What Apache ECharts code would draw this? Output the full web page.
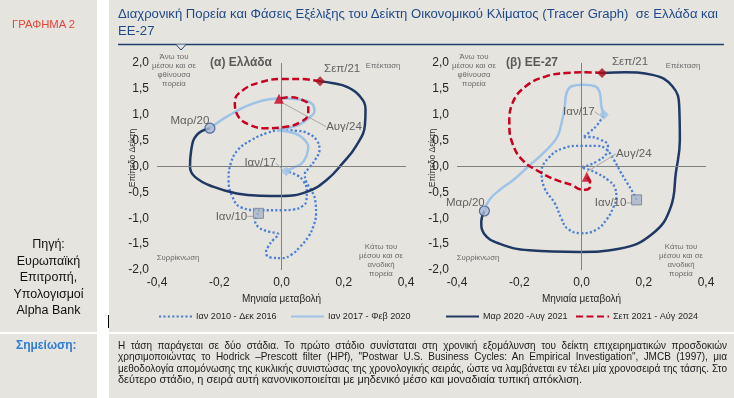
<!DOCTYPE html>
<html><head><meta charset="utf-8">
<script src="https://cdn.jsdelivr.net/npm/echarts@6/dist/echarts.min.js"></script>
<style>
html,body{margin:0;padding:0;background:#fff;}
body{width:734px;height:398px;position:relative;overflow:hidden;font-family:'Liberation Sans',Arial,sans-serif;}
.pn{position:absolute;background:#e6e4df;}
#chart{position:absolute;left:0;top:0;width:734px;height:398px;z-index:1;}
.tx{position:absolute;z-index:2;white-space:nowrap;}
#notes div{text-align:justify;text-align-last:justify;white-space:nowrap;transform-origin:left top;}
#notes div.last{text-align-last:left;}
</style></head>
<body>
<div class="pn" style="left:0;top:0;width:97px;height:332px"></div>
<div class="pn" style="left:109px;top:0;width:625px;height:332px"></div>
<div class="pn" style="left:0;top:334px;width:97px;height:64px"></div>
<div class="pn" style="left:109px;top:334px;width:625px;height:64px"></div>

<div class="tx" style="left:12px;top:17px;font-size:11.3px;line-height:14px;color:#e2483a">ΓΡΑΦΗΜΑ 2</div>
<div id="title" class="tx" style="left:118px;top:6px;font-size:12.5px;line-height:17px;color:#1f4a8a"><span id="t1">Διαχρονική Πορεία και Φάσεις Εξέλιξης του Δείκτη Οικονομικού Κλίματος (Tracer Graph)&nbsp; σε Ελλάδα και</span><br>ΕΕ-27</div>
<div class="tx" style="left:0;width:97px;top:236px;text-align:center;font-size:12.5px;line-height:16.5px;color:#111">Πηγή:<br>Ευρωπαϊκή<br>Επιτροπή,<br>Υπολογισμοί<br>Alpha Bank</div>
<div class="tx" style="left:16px;top:338px;font-size:12px;line-height:15px;font-weight:bold;color:#2e7dd1">Σημείωση:</div>
<div id="notes" class="tx" style="left:118px;top:339.5px;font-size:10.5px;line-height:11.5px;color:#1a1a1a">
<div><span>Η τάση παράγεται σε δύο στάδια. Το πρώτο στάδιο συνίσταται στη χρονική εξομάλυνση του δείκτη επιχειρηματικών προσδοκιών</span></div>
<div><span>χρησιμοποιώντας το Hodrick –Prescott filter (HPf), "Postwar U.S. Business Cycles: An Empirical Investigation", JMCB (1997), μια</span></div>
<div><span>μεθοδολογία απομόνωσης της κυκλικής συνιστώσας της χρονολογικής σειράς, ώστε να λαμβάνεται εν τέλει μία χρονοσειρά της τάσης. Στο</span></div>
<div class="last"><span>δεύτερο στάδιο, η σειρά αυτή κανονικοποιείται με μηδενικό μέσο και μοναδιαία τυπική απόκλιση.</span></div>
</div>
<div id="chart"></div>
<script>
// ---------- DATA ----------
const seriesNames = ['Ιαν 2010 - Δεκ 2016', 'Ιαν 2017 - Φεβ 2020', 'Μαρ 2020 -Αυγ 2021', 'Σεπ 2021 - Αύγ 2024'];
const panelTitles = ['(α) Ελλάδα', '(β) ΕΕ-27'];
const markerNames = ['Ιαν/10', 'Ιαν/17', 'Μαρ/20', 'Σεπ/21', 'Αυγ/24'];
const xTicks = [-0.4, -0.2, 0.0, 0.2, 0.4];
const yTicks = [-2.0, -1.5, -1.0, -0.5, 0.0, 0.5, 1.0, 1.5, 2.0];

// Greece
const grDotted = [[-0.074,-0.905],[-0.085,-1.04],[-0.072,-1.18],[-0.04,-1.26],[-0.01,-1.31],[-0.027,-1.42],[-0.043,-1.55],[-0.05,-1.67],[-0.033,-1.76],[0.0,-1.77],[0.033,-1.70],[0.06,-1.55],[0.086,-1.36],[0.102,-1.16],[0.111,-0.92],[0.109,-0.68],[0.098,-0.48],[0.08,-0.30],[0.075,-0.15],[0.09,-0.02],[0.108,0.13],[0.122,0.32],[0.114,0.50],[0.088,0.63],[0.05,0.69],[0.0,0.70],[-0.045,0.65],[-0.10,0.50],[-0.14,0.32],[-0.163,0.06],[-0.17,-0.26],[-0.158,-0.58],[-0.13,-0.79],[-0.07,-0.845],[0.0,-0.845],[0.04,-0.83],[0.066,-0.77],[0.08,-0.66],[0.081,-0.46],[0.07,-0.28],[0.05,-0.17],[0.015,-0.09]];
const grLight = [[0.015,-0.09],[0.038,-0.02],[0.065,0.06],[0.081,0.22],[0.086,0.38],[0.075,0.51],[0.054,0.61],[0.027,0.665],[0.0,0.69],[-0.012,0.71],[0.02,0.745],[0.06,0.82],[0.09,0.95],[0.106,1.07],[0.10,1.20],[0.066,1.29],[0.0,1.32],[-0.05,1.29],[-0.09,1.22],[-0.13,1.12],[-0.165,1.0],[-0.20,0.87],[-0.23,0.74]];
const grNavy = [[-0.23,0.74],[-0.272,0.61],[-0.29,0.32],[-0.294,0.0],[-0.278,-0.20],[-0.22,-0.39],[-0.144,-0.52],[-0.069,-0.565],[0.0,-0.57],[0.081,-0.49],[0.145,-0.26],[0.196,0.06],[0.24,0.40],[0.268,0.80],[0.27,1.10],[0.25,1.37],[0.21,1.54],[0.166,1.61],[0.124,1.645]];
const grRed = [[0.124,1.645],[0.059,1.69],[0.0,1.69],[-0.069,1.625],[-0.123,1.48],[-0.15,1.26],[-0.142,1.0],[-0.101,0.80],[-0.048,0.74],[0.006,0.76],[0.059,0.85],[0.086,1.03],[0.086,1.19],[0.065,1.29],[0.027,1.34],[-0.008,1.31]];

// EU-27
const euDotted = [[0.177,-0.645],[0.165,-0.50],[0.145,-0.30],[0.125,-0.10],[0.105,0.12],[0.08,0.33],[0.05,0.40],[0.0,0.40],[-0.06,0.35],[-0.105,0.17],[-0.128,-0.10],[-0.12,-0.40],[-0.085,-0.72],[-0.065,-1.0],[-0.045,-1.20],[0.0,-1.29],[0.048,-1.22],[0.08,-1.03],[0.10,-0.82],[0.112,-0.60],[0.108,-0.42],[0.085,-0.26],[0.05,-0.13],[0.015,-0.04],[0.0,-0.02],[0.02,0.02],[0.05,0.10],[0.08,0.25],[0.085,0.40],[0.06,0.52],[0.025,0.57],[0.005,0.56],[0.025,0.66],[0.05,0.80],[0.072,1.0]];
const euLight = [[0.072,1.0],[0.064,1.16],[0.059,1.42],[0.043,1.55],[0.005,1.58],[-0.032,1.55],[-0.048,1.42],[-0.054,1.16],[-0.064,0.84],[-0.08,0.55],[-0.123,0.26],[-0.171,0.0],[-0.219,-0.26],[-0.262,-0.45],[-0.297,-0.65],[-0.312,-0.86]];
const euNavy = [[-0.312,-0.86],[-0.322,-1.07],[-0.313,-1.30],[-0.264,-1.49],[-0.168,-1.62],[-0.007,-1.65],[0.121,-1.59],[0.228,-1.30],[0.287,-0.78],[0.303,-0.13],[0.316,0.51],[0.314,1.16],[0.292,1.55],[0.228,1.77],[0.142,1.82],[0.066,1.806]];
const euRed = [[0.066,1.806],[0.014,1.82],[-0.05,1.806],[-0.115,1.74],[-0.179,1.55],[-0.222,1.22],[-0.232,0.84],[-0.222,0.45],[-0.19,0.127],[-0.136,-0.10],[-0.082,-0.26],[-0.03,-0.36],[-0.005,-0.44],[0.014,-0.45],[0.027,-0.39],[0.027,-0.30],[0.017,-0.20]];

// ---------- fit HTML text widths ----------
(function(){
  const t1 = document.getElementById('t1');
  const w = t1.getBoundingClientRect().width;
  const title = document.getElementById('title');
  title.style.transformOrigin = 'left top';
  title.style.transform = 'scaleX(' + (600 / w) + ')';
  const lines = document.querySelectorAll('#notes div');
  const widths = Array.from(lines).map(d => d.querySelector('span').getBoundingClientRect().width);
  const base = 464 / widths[3];
  lines.forEach((d, i) => {
    let s = base;
    if (i < 3 && widths[i] * base > 609) s = 609 / widths[i];
    d.style.width = (i < 3 ? 609 / s : widths[i] + 2) + 'px';
    d.style.transform = 'scaleX(' + s + ')';
  });
})();

// ---------- STYLE ----------
const SANS = "'Liberation Sans', Arial, sans-serif";
const lineStyles = [
  {color:'#4a7fd6', width:2.3, type:[2.2,2.2]},
  {color:'#9dc3e6', width:2.5, type:'solid'},
  {color:'#1f3864', width:2.5, type:'solid'},
  {color:'#c8001e', width:2.5, type:[7,3.5]}
];
const markerStyle = {
  'Ιαν/10': {symbol:'rect', size:10, itemStyle:{color:'#a9b4c8', borderColor:'#6c7c98', borderWidth:1}},
  'Ιαν/17': {symbol:'diamond', size:10, itemStyle:{color:'#9dc3e6'}},
  'Μαρ/20': {symbol:'circle', size:10, itemStyle:{color:'#a9b9d6', borderColor:'#34548a', borderWidth:1.2}},
  'Σεπ/21': {symbol:'diamond', size:10, itemStyle:{color:'#a5101c'}},
  'Αυγ/24': {symbol:'triangle', size:10, itemStyle:{color:'#c8001e'}}
};
const labelOffsets = [
  {'Ιαν/10':[-27,3,true], 'Ιαν/17':[-26,-8,true], 'Μαρ/20':[-20,-7,false], 'Σεπ/21':[22,-13,false], 'Αυγ/24':[65,28,true]},
  {'Ιαν/10':[-26,3,true], 'Ιαν/17':[-25,-3,true], 'Μαρ/20':[-19,-8,false], 'Σεπ/21':[28,-11,false], 'Αυγ/24':[47,-23,true]}
];
const grids = [{left:157, top:63, width:249, height:207}, {left:457, top:63, width:249, height:207}];

const panels = [
  {dotted:grDotted, light:grLight, navy:grNavy, red:grRed},
  {dotted:euDotted, light:euLight, navy:euNavy, red:euRed}
];

const fmt = v => v.toFixed(1).replace('.', ',');
const series = [];
const xAxis = [], yAxis = [];
panels.forEach((p, i) => {
  xAxis.push({type:'value', gridIndex:i, min:xTicks[0], max:xTicks[xTicks.length-1], interval:0.2,
    axisLine:{show:false}, axisTick:{show:false}, splitLine:{show:false},
    axisLabel:{formatter:fmt, fontSize:12, fontFamily:SANS, color:'#262626', margin:7},
    name:'Μηνιαία μεταβολή', nameLocation:'middle', nameGap:24,
    nameTextStyle:{fontSize:10, fontFamily:SANS, color:'#262626'}});
  yAxis.push({type:'value', gridIndex:i, min:yTicks[0], max:yTicks[yTicks.length-1], interval:0.5,
    axisLine:{show:false, onZero:false}, axisTick:{show:false}, splitLine:{show:false},
    axisLabel:{formatter:fmt, fontSize:12, fontFamily:SANS, color:'#262626', margin:8}});
  const arr = [p.dotted, p.light, p.navy, p.red];
  arr.forEach((d, k) => {
    const s = {type:'line', name:seriesNames[k], xAxisIndex:i, yAxisIndex:i, data:d,
      smooth:0.45, symbol:'none', showSymbol:false, lineStyle:lineStyles[k], itemStyle:{color:lineStyles[k].color},
      silent:true, z:2+k, animation:false};
    if (k === 0) {
      s.markLine = {silent:true, symbol:'none', label:{show:false}, animation:false,
        lineStyle:{color:'#808080', width:1, type:'solid'},
        data:[{xAxis:0}, {yAxis:0}]};
    }
    series.push(s);
  });
  const pts = {'Ιαν/10':p.dotted[0], 'Ιαν/17':p.light[0], 'Μαρ/20':p.navy[0], 'Σεπ/21':p.red[0], 'Αυγ/24':p.red[p.red.length-1]};
  const offs = labelOffsets[i];
  const data = markerNames.map(n => ({
    name:n, value:pts[n], symbol:markerStyle[n].symbol, symbolSize:markerStyle[n].size,
    itemStyle:markerStyle[n].itemStyle,
    labelLine:{show:offs[n][2]}
  }));
  series.push({type:'scatter', xAxisIndex:i, yAxisIndex:i, data:data, z:10, animation:false, silent:true,
    label:{show:true, position:'inside', formatter:'{b}', fontSize:11.5, fontFamily:SANS, color:'#404040'},
    labelLine:{show:true, lineStyle:{color:'#a6a6a6', width:1}},
    labelLayout:(params) => { const o = offs[data[params.dataIndex].name]; return {dx:o[0], dy:o[1]}; }
  });
});

const legendLeft = [158, 290, 445, 575];
const legends = seriesNames.map((n, k) => ({data:[n], left:legendLeft[k], top:311, padding:0, itemWidth:33, itemHeight:14,
  itemGap:4, selectedMode:false, itemStyle:{opacity:0},
  textStyle:{fontSize:9.1, fontFamily:SANS, color:'#262626', padding:[0,0,0,-1]}}));

const quadStyle = {font:'7.8px ' + SANS, fill:'#6b6b6b', align:'center', verticalAlign:'middle', lineHeight:9};
const graphic = [
  {type:'line', shape:{x1:118, y1:44.5, x2:724, y2:44.5}, style:{stroke:'#1f3f6e', lineWidth:1.3}},
  {type:'polyline', shape:{points:[[176,44.5],[181,50],[186,44.5]]}, style:{stroke:'#1f3f6e', lineWidth:1, fill:'#e6e4df'}},
  {type:'line', shape:{x1:108.5, y1:315, x2:108.5, y2:328}, style:{stroke:'#000', lineWidth:1}}
];
grids.forEach((g, i) => {
  const L = g.left, R = g.left + g.width;
  graphic.push(
    {type:'text', x:L+17, y:70.5, style:Object.assign({text:'Άνω του\nμέσου και σε\nφθίνουσα\nπορεία'}, quadStyle)},
    {type:'text', x:R-23, y:66, style:Object.assign({text:'Επέκταση'}, quadStyle)},
    {type:'text', x:L+21, y:258, style:Object.assign({text:'Συρρίκνωση'}, quadStyle)},
    {type:'text', x:R-25, y:260.5, style:Object.assign({text:'Κάτω του\nμέσου και σε\nανοδική\nπορεία'}, quadStyle)},
    {type:'text', x:L + (i===0 ? 84 : 75), y:63, style:{text:panelTitles[i], font:'bold 12px ' + SANS, fill:'#595959', align:'center', verticalAlign:'middle'}},
    {type:'text', x:L-24, y:158, rotation:Math.PI/2, style:{text:'Επίπεδο Δείκτη', font:'8.5px ' + SANS, fill:'#333', align:'center', verticalAlign:'middle'}}
  );
});

const chart = echarts.init(document.getElementById('chart'), null, {renderer:'canvas'});
chart.setOption({
  backgroundColor:'transparent', animation:false,
  grid:grids, xAxis:xAxis, yAxis:yAxis, series:series, legend:legends, graphic:graphic
});
</script>
</body></html>
